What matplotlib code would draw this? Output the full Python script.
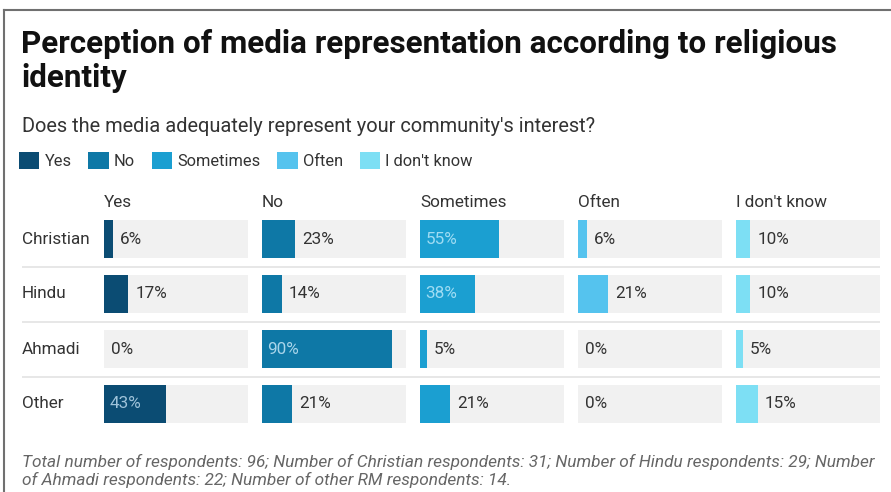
import matplotlib
matplotlib.use('Agg')
import matplotlib.pyplot as plt
from matplotlib.lines import Line2D

plt.rcParams['font.family'] = ['Roboto', 'DejaVu Sans']

# data
groups = ['Christian', 'Hindu', 'Ahmadi', 'Other']
answers = ['Yes', 'No', 'Sometimes', 'Often', "I don't know"]
yes = [6, 17, 0, 43]
no = [23, 14, 90, 21]
sometimes = [55, 38, 5, 21]
often = [6, 21, 0, 0]
dont_know = [10, 10, 5, 15]
series = [yes, no, sometimes, often, dont_know]

colors = ['#0b4c73', '#0e78a6', '#1b9fd1', '#55c3ee', '#7ddff4']
inside_colors = ['#9fc3da', '#a9d5ea', '#9fdcf3', '#d6f1fb', '#e3f8fc']

title = 'Perception of media representation according to religious\nidentity'
subtitle = "Does the media adequately represent your community's interest?"
note = ('Total number of respondents: 96; Number of Christian respondents: 31; '
        'Number of Hindu respondents: 29; Number\n'
        'of Ahmadi respondents: 22; Number of other RM respondents: 14.')

W, H = 891, 492


def fx(px):
    return px / W


def fy(py):
    return 1 - py / H


fig = plt.figure(figsize=(W / 100, H / 100), dpi=100)
fig.patch.set_facecolor('white')

# frame lines (top and left)
fig.add_artist(Line2D([fx(4), 1], [fy(10), fy(10)], color='#707070', lw=1.5))
fig.add_artist(Line2D([fx(4), fx(4)], [fy(10), 0], color='#707070', lw=1.5))

fig.text(fx(21), fy(29), title, fontsize=22.6, fontweight='bold', color='#111111',
         va='top', ha='left', linespacing=1.15)
fig.text(fx(22), fy(127), subtitle, fontsize=14.4, color='#333333', va='center', ha='left')

# rows area
top_px, row_px = 211.5, 55
n = len(groups)
bottom_px = top_px + n * row_px

# background axes for row labels and separators
bg = fig.add_axes([fx(22), fy(bottom_px), fx(880) - fx(22), fy(top_px) - fy(bottom_px)])
bg.set_xlim(0, 1)
bg.set_ylim(n - 0.5, -0.5)
bg.axis('off')
for i in range(n - 1):
    bg.axhline(i + 0.5, color='#e3e3e3', lw=1.2)
for i, g in enumerate(groups):
    bg.text(0, i, g, fontsize=12.3, color='#333333', va='center', ha='left')

handles = []
for j, (name, vals) in enumerate(zip(answers, series)):
    left = 104 + j * 158
    ax = fig.add_axes([fx(left), fy(bottom_px), fx(144), fy(top_px) - fy(bottom_px)])
    ax.set_xlim(0, 100)
    ax.set_ylim(n - 0.5, -0.5)
    ax.axis('off')
    ypos = list(range(n))
    ax.barh(ypos, [100] * n, height=0.69, color='#f1f1f1', zorder=1)
    bars = ax.barh(ypos, vals, height=0.69, color=colors[j], label=name, zorder=2)
    handles.append(bars)
    for y, v in zip(ypos, vals):
        if v >= 30:
            ax.annotate(f'{v}%', (0, y), xytext=(4, 0), textcoords='offset points',
                        fontsize=12.3, color=inside_colors[j], va='center', ha='left', zorder=3)
        else:
            ax.annotate(f'{v}%', (v, y), xytext=(5, 0), textcoords='offset points',
                        fontsize=12.3, color='#333333', va='center', ha='left', zorder=3)
    fig.text(fx(left), fy(202), name, fontsize=12.3, color='#333333', va='center', ha='left')

fig.legend(handles=handles, labels=answers, loc='upper left',
           bbox_to_anchor=(fx(19), fy(152)), ncol=5, frameon=False,
           fontsize=11.8, handlelength=1.25, handleheight=1.2, handletextpad=0.3,
           columnspacing=1.03, borderpad=0, borderaxespad=0, labelcolor='#333333')

fig.text(fx(22), fy(471), note, fontsize=12.4, style='italic', color='#666666',
         va='center', ha='left', linespacing=1.2)

fig.savefig('out.png', dpi=100)
